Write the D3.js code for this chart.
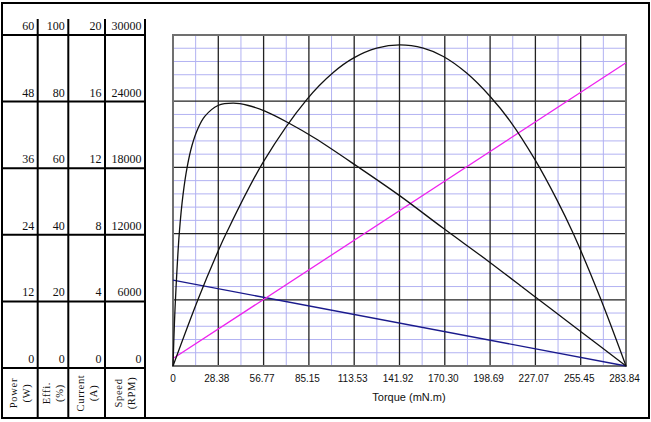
<!DOCTYPE html>
<html><head><meta charset="utf-8">
<script src="https://cdn.jsdelivr.net/npm/d3@7"></script>
<style>html,body{margin:0;padding:0;background:#fff;}svg{display:block;}</style>
</head><body>
<script>
// ---- data ----
const torqueTicks = [0, 28.38, 56.77, 85.15, 113.53, 141.92, 170.30, 198.69, 227.07, 255.45, 283.84];
const torqueTickLabels = ["0","28.38","56.77","85.15","113.53","141.92","170.30","198.69","227.07","255.45","283.84"];
const powerTicks = [0, 12, 24, 36, 48, 60];
const effTicks = [0, 20, 40, 60, 80, 100];
const currentTicks = [0, 4, 8, 12, 16, 20];
const speedTicks = [0, 6000, 12000, 18000, 24000, 30000];
const columnTitles = [["Power","(W)"],["Effi.","(%)"],["Current","(A)"],["Speed","(RPM)"]];

const effTorque = [0, 0.9, 1.88, 3.95, 6.27, 8.96, 11.9, 15.7, 19.9, 28.2, 37.8, 47.2, 57.6, 72.2, 89.0, 116.1, 142.2, 169.4, 198.6, 226.8, 255.0, 283.84];
const effValues = [0, 13.0, 23.5, 40.2, 51.7, 60.3, 66.6, 71.8, 75.4, 78.7, 79.4, 78.7, 77.0, 73.5, 68.8, 60.1, 51.4, 41.6, 31.3, 20.9, 10.6, 0];

const powerTorque = [0, 15.85, 28.38, 33.6, 56.8, 83.8, 100.4, 113.0, 127.6, 142.2, 156.8, 169.4, 184.0, 198.6, 211.2, 226.8, 240.4, 250.8, 267.5, 283.84];
const powerValues = [0, 12.2, 20.9, 24.2, 37.1, 48.3, 53.2, 55.8, 57.6, 58.2, 57.6, 56.1, 53.1, 48.9, 44.4, 37.4, 30.2, 24.0, 12.5, 0];

const speedTorque = [0, 283.84];
const speedValues = [7780, 0];

const currentTorque = [0, 283.84];
const currentValues = [0.45, 18.32];

// ---- layout ----
const W = 651, H = 422;
const svg = d3.select("body").append("svg").attr("width", W).attr("height", H);
svg.append("rect").attr("width", W).attr("height", H).attr("fill", "#fff");

const plot = {l: 173, r: 626, t: 35, b: 366};
const x = d3.scaleLinear().domain([0, 283.84]).range([plot.l, plot.r]);
const yP = d3.scaleLinear().domain([0, 60]).range([plot.b, plot.t]);
const yE = d3.scaleLinear().domain([0, 100]).range([plot.b, plot.t]);
const yC = d3.scaleLinear().domain([0, 20]).range([plot.b, plot.t]);
const yS = d3.scaleLinear().domain([0, 30000]).range([plot.b, plot.t]);

// minor grid
const g = svg.append("g");
const minorX = d3.range(0, 20).map(i => i * 283.84 / 20).filter((d, i) => i % 2 === 1);
const minorY = d3.range(0, 25).map(i => i * 60 / 25).filter((d, i) => i % 5 !== 0);
g.selectAll(".mx").data(minorX).join("line")
  .attr("x1", d => x(d)).attr("x2", d => x(d)).attr("y1", plot.t).attr("y2", plot.b)
  .attr("stroke", "#b2b2f2").attr("stroke-width", 1);
g.selectAll(".my").data(minorY).join("line")
  .attr("x1", plot.l).attr("x2", plot.r).attr("y1", d => yP(d)).attr("y2", d => yP(d))
  .attr("stroke", "#b2b2f2").attr("stroke-width", 1);
// major grid
g.selectAll(".MX").data(torqueTicks.slice(1, -1)).join("line")
  .attr("x1", d => x(d)).attr("x2", d => x(d)).attr("y1", plot.t).attr("y2", plot.b)
  .attr("stroke", "#222").attr("stroke-width", 1.3);
g.selectAll(".MY").data(powerTicks.slice(1, -1)).join("line")
  .attr("x1", plot.l).attr("x2", plot.r).attr("y1", d => yP(d)).attr("y2", d => yP(d))
  .attr("stroke", "#222").attr("stroke-width", 1.3);
g.append("rect").attr("x", plot.l).attr("y", plot.t).attr("width", plot.r - plot.l).attr("height", plot.b - plot.t)
  .attr("fill", "none").attr("stroke", "#707070").attr("stroke-width", 2);

// x tick labels
svg.selectAll(".xt").data(torqueTicks).join("text")
  .attr("x", (d, i) => x(d) - (i === 0 ? 0 : 1.5)).attr("y", 382)
  .attr("text-anchor", "middle").attr("font-family", "Liberation Sans, Arial, sans-serif")
  .attr("font-size", 10).attr("fill", "#111").text((d, i) => torqueTickLabels[i]);
svg.append("text").attr("x", 409).attr("y", 401).attr("text-anchor", "middle")
  .attr("font-family", "Liberation Sans, Arial, sans-serif").attr("font-size", 11).attr("fill", "#111")
  .text("Torque (mN.m)");

// curves
const lineGen = (ys, curve) => d3.line().x(d => x(d[0])).y(d => ys(d[1])).curve(curve);
svg.append("path").datum(d3.zip(speedTorque, speedValues))
  .attr("d", lineGen(yS, d3.curveLinear)).attr("fill", "none").attr("stroke", "#1a1a8c").attr("stroke-width", 1.3);
svg.append("path").datum(d3.zip(currentTorque, currentValues))
  .attr("d", lineGen(yC, d3.curveLinear)).attr("fill", "none").attr("stroke", "#ee22ee").attr("stroke-width", 1.3);
svg.append("path").datum(d3.zip(powerTorque, powerValues))
  .attr("d", lineGen(yP, d3.curveCatmullRom.alpha(0.5))).attr("fill", "none").attr("stroke", "#111").attr("stroke-width", 1.3);
svg.append("path").datum(d3.zip(effTorque, effValues))
  .attr("d", lineGen(yE, d3.curveCatmullRom.alpha(0.5))).attr("fill", "none").attr("stroke", "#111").attr("stroke-width", 1.3);

// left table
const colX = [2, 37.7, 68.3, 105, 145];
const tY = d3.scaleLinear().domain([0, 5]).range([368, 35]);
const tbl = svg.append("g");
tbl.selectAll(".hl").data(d3.range(0, 6)).join("line")
  .attr("x1", colX[0]).attr("x2", colX[4]).attr("y1", d => tY(d)).attr("y2", d => tY(d))
  .attr("stroke", "#000").attr("stroke-width", 2);
tbl.selectAll(".vl").data(colX.slice(1)).join("line")
  .attr("x1", d => d).attr("x2", d => d).attr("y1", 19).attr("y2", 418)
  .attr("stroke", "#000").attr("stroke-width", 2);

const cols = [powerTicks, effTicks, currentTicks, speedTicks];
cols.forEach((ticks, ci) => {
  tbl.selectAll(".c" + ci).data(ticks).join("text")
    .attr("x", colX[ci + 1] - 3.5).attr("y", (d, i) => tY(i) - 5)
    .attr("text-anchor", "end").attr("font-family", "Liberation Serif, serif")
    .attr("font-size", 12).attr("fill", "#111").text(d => d);
  const cx = (colX[ci] + colX[ci + 1]) / 2;
  columnTitles[ci].forEach((t, li) => {
    const px = cx + (li === 0 ? -6.5 : 6.5) + 3.5;
    tbl.append("text").attr("transform", `translate(${px},393) rotate(-90)`)
      .attr("text-anchor", "middle").attr("font-family", "Liberation Serif, serif")
      .attr("font-size", 10.5).attr("letter-spacing", 0.7).attr("fill", "#111").text(t);
  });
});

// outer frame
svg.append("rect").attr("x", 2).attr("y", 3).attr("width", 647).attr("height", 415)
  .attr("fill", "none").attr("stroke", "#000").attr("stroke-width", 2);
</script>
</body></html>
